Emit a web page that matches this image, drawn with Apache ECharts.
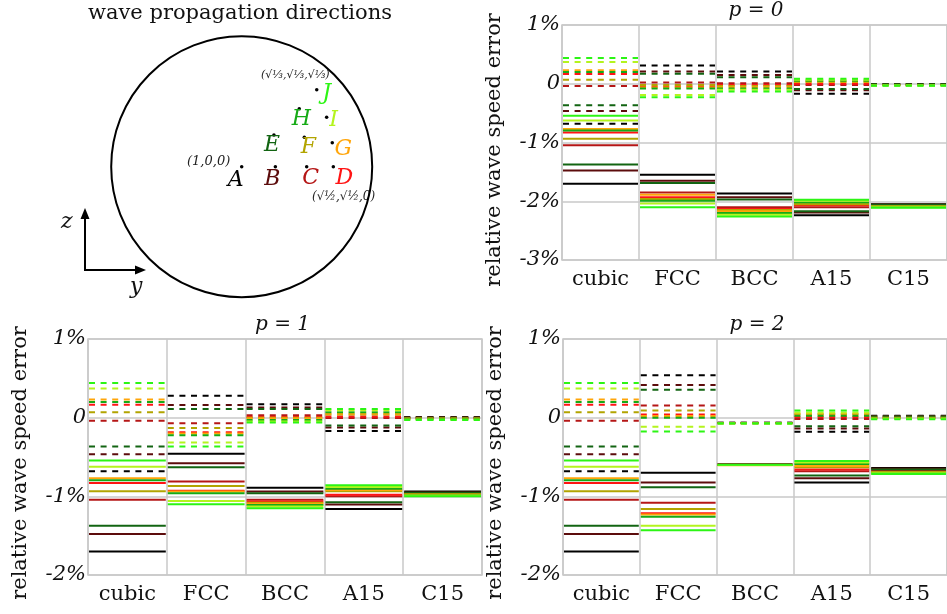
<!DOCTYPE html>
<html><head><meta charset="utf-8">
<script src="https://cdn.jsdelivr.net/npm/echarts@6/dist/echarts.min.js"></script>
<style>html,body{margin:0;padding:0;background:#fff}#c{width:947px;height:614px}</style>
</head><body><div id="c"></div><script>
// ---------- categories ----------
const structures = ['cubic', 'FCC', 'BCC', 'A15', 'C15'];
const directions = ['A', 'B', 'C', 'D', 'E', 'F', 'G', 'H', 'I', 'J'];
// projected direction positions on the unit sphere (y, z)
const dirY = [0, 0.258, 0.498, 0.702, 0.247, 0.480, 0.694, 0.441, 0.651, 0.575];
const dirZ = [0, 0, 0, 0, 0.243, 0.225, 0.184, 0.445, 0.378, 0.590];
// tick values (%)
const topTicks = [-3, -2, -1, 0, 1];
const bottomTicks = [-2, -1, 0, 1];
const panelTitles = ['p = 0', 'p = 1', 'p = 2'];
const yTitle = 'relative wave speed error';

// ---------- values: relative wave speed error (%), order A..J ----------
const cubicDashed = [-0.68, -0.465, -0.04, 0.165, -0.365, 0.068, 0.23, 0.2, 0.37, 0.44];
const cubicSolid = [-1.70, -1.478, -1.045, -0.83, -1.375, -0.935, -0.77, -0.795, -0.625, -0.545];

const p0FccDashed = [0.31, 0.21, 0.02, -0.045, 0.17, -0.02, -0.065, -0.08, -0.19, -0.23];
const p0FccSolid = [-1.55, -1.65, -1.85, -1.93, -1.69, -1.96, -1.89, -1.99, -2.04, -2.10];
const p0BccDashed = [0.21, 0.15, 0.01, -0.02, 0.11, -0.04, -0.06, -0.08, -0.10, -0.13];
const p0BccSolid = [-1.87, -1.93, -2.10, -2.13, -1.97, -2.15, -2.17, -2.20, -2.23, -2.26];
const p0A15Dashed = [-0.17, -0.11, -0.02, 0.0, -0.09, 0.03, 0.04, 0.05, 0.07, 0.085];
const p0A15Solid = [-2.24, -2.19, -2.10, -2.07, -2.17, -2.05, -2.03, -2.02, -1.99, -1.975];
const p0C15Dashed = [-0.005, -0.008, -0.018, -0.022, -0.01, -0.02, -0.025, -0.027, -0.03, -0.035];
const p0C15Solid = [-2.05, -2.055, -2.07, -2.08, -2.06, -2.08, -2.09, -2.095, -2.10, -2.11];

const p1FccDashed = [0.28, 0.16, -0.07, -0.185, 0.11, -0.13, -0.20, -0.225, -0.315, -0.365];
const p1FccSolid = [-0.46, -0.58, -0.81, -0.93, -0.63, -0.87, -0.94, -0.96, -1.06, -1.10];
const p1BccDashed = [0.17, 0.13, 0.03, 0.01, 0.11, 0.0, -0.01, -0.03, -0.05, -0.06];
const p1BccSolid = [-0.89, -0.94, -1.045, -1.065, -0.96, -1.08, -1.095, -1.11, -1.13, -1.15];
const p1A15Dashed = [-0.17, -0.125, -0.005, 0.015, -0.10, 0.04, 0.05, 0.07, 0.095, 0.11];
const p1A15Solid = [-1.16, -1.105, -1.0, -0.98, -1.075, -0.935, -0.92, -0.905, -0.88, -0.86];
const p1C15Dashed = [0.01, 0.005, -0.005, -0.01, 0.0, -0.01, -0.015, -0.02, -0.025, -0.03];
const p1C15Solid = [-0.94, -0.95, -0.965, -0.97, -0.955, -0.975, -0.98, -0.985, -0.99, -1.0];

const p2FccDashed = [0.54, 0.415, 0.155, 0.04, 0.355, 0.09, 0.02, 0.0, -0.115, -0.175];
const p2FccSolid = [-0.70, -0.825, -1.08, -1.215, -0.885, -1.16, -1.23, -1.26, -1.375, -1.43];
const p2BccDashed = [-0.065, -0.066, -0.068, -0.069, -0.067, -0.07, -0.071, -0.072, -0.073, -0.074];
const p2BccSolid = [-0.595, -0.596, -0.598, -0.6, -0.597, -0.601, -0.605, -0.602, -0.603, -0.6];
const p2A15Dashed = [-0.18, -0.137, -0.018, 0.007, -0.11, 0.045, 0.05, 0.025, 0.066, 0.09];
const p2A15Solid = [-0.825, -0.77, -0.68, -0.66, -0.735, -0.63, -0.615, -0.59, -0.57, -0.55];
const p2C15Dashed = [0.025, 0.02, 0.005, 0.0, 0.015, 0.0, -0.005, -0.01, -0.015, -0.02];
const p2C15Solid = [-0.64, -0.65, -0.675, -0.685, -0.66, -0.69, -0.695, -0.70, -0.705, -0.715];

// ---------- styles ----------
const dirColors = ['#000000', '#5c0c0c', '#b51616', '#ff1414', '#126412', '#b2a400', '#ffa50a', '#16aa16', '#b4f41e', '#2cf514'];
const labelOffsets = [[-6, 14], [-3, 13], [4, 12], [11, 12], [-2, 10], [4, 10], [11, 7], [2, 11], [7, 3], [10, 4]];
const SERIF = 'DejaVu Serif';
const GRIDC = '#c8c8c8';

const panels = [
  { grid: { left: 562, top: 25, width: 393, height: 235 }, ticks: topTicks, titleX: 495, titleY: 150,
    dashed: [cubicDashed, p0FccDashed, p0BccDashed, p0A15Dashed, p0C15Dashed],
    solid: [cubicSolid, p0FccSolid, p0BccSolid, p0A15Solid, p0C15Solid] },
  { grid: { left: 88, top: 339, width: 394, height: 236 }, ticks: bottomTicks, titleX: 21, titleY: 463,
    dashed: [cubicDashed, p1FccDashed, p1BccDashed, p1A15Dashed, p1C15Dashed],
    solid: [cubicSolid, p1FccSolid, p1BccSolid, p1A15Solid, p1C15Solid] },
  { grid: { left: 563, top: 339, width: 393, height: 236 }, ticks: bottomTicks, titleX: 496, titleY: 463,
    dashed: [cubicDashed, p2FccDashed, p2BccDashed, p2A15Dashed, p2C15Dashed],
    solid: [cubicSolid, p2FccSolid, p2BccSolid, p2A15Solid, p2C15Solid] }
];

const grids = [], xAxes = [], yAxes = [], series = [], graphics = [];

panels.forEach((p, gi) => {
  grids.push(Object.assign({ show: true, borderColor: GRIDC, borderWidth: 1.5, backgroundColor: '#fff' }, p.grid));
  xAxes.push({
    type: 'category', gridIndex: gi, data: structures, boundaryGap: true,
    axisTick: { show: false }, axisLine: { show: false },
    splitLine: { show: true, lineStyle: { color: GRIDC, width: 1.5 } },
    axisLabel: { fontFamily: SERIF, fontSize: 21, color: '#111', margin: 9, interval: 0 }
  });
  yAxes.push({
    type: 'value', gridIndex: gi, min: p.ticks[0], max: p.ticks[p.ticks.length - 1], interval: 1,
    axisLine: { show: false }, axisTick: { show: false },
    splitLine: { show: true, lineStyle: { color: GRIDC, width: 1.5 } },
    axisLabel: { fontFamily: SERIF, fontStyle: 'italic', fontSize: 21, color: '#111', margin: 2,
      formatter: v => (v === 0 ? '0' : (v + '%')) }
  });
  const data = [];
  directions.forEach((d, di) => {
    structures.forEach((s, si) => {
      data.push([si, p.dashed[si][di], di, 1]);
    });
  });
  directions.forEach((d, di) => {
    structures.forEach((s, si) => {
      data.push([si, p.solid[si][di], di, 0]);
    });
  });
  series.push({
    type: 'custom', xAxisIndex: gi, yAxisIndex: gi, coordinateSystem: 'cartesian2d',
    data: data, silent: true, animation: false,
    renderItem: function (params, api) {
      const c = api.coord([api.value(0), api.value(1)]);
      const w = api.size([1, 0])[0];
      const di = api.value(2);
      const dashed = api.value(3) === 1;
      return {
        type: 'line',
        shape: { x1: c[0] - w / 2 + 1, y1: c[1], x2: c[0] + w / 2 - 1, y2: c[1] },
        style: { stroke: dirColors[di], lineWidth: 2, lineDash: dashed ? [6, 5.6] : null }
      };
    }
  });
  graphics.push({
    type: 'text', left: p.grid.left + p.grid.width / 2 - 30, top: p.grid.top - 24,
    style: { text: panelTitles[gi], font: 'italic 20px "DejaVu Serif"', fill: '#111' }
  });
  graphics.push({
    type: 'text', x: p.titleX, y: p.titleY, rotation: Math.PI / 2,
    style: { text: yTitle, font: '21px "DejaVu Serif"', fill: '#111', align: 'center', verticalAlign: 'middle' }
  });
});

// ---------- diagram of wave propagation directions ----------
const dg = grids.length;
grids.push({ left: 111.2, top: 36.2, width: 261, height: 261, show: false });
xAxes.push({ type: 'value', gridIndex: dg, min: -1, max: 1, show: false });
yAxes.push({ type: 'value', gridIndex: dg, min: -1, max: 1, show: false });
series.push({
  type: 'custom', xAxisIndex: dg, yAxisIndex: dg, coordinateSystem: 'cartesian2d',
  data: [[0, 0, 1]], silent: true, animation: false,
  renderItem: function (params, api) {
    const c = api.coord([api.value(0), api.value(1)]);
    const r = api.size([api.value(2), 0])[0];
    return { type: 'circle', shape: { cx: c[0], cy: c[1], r: r },
      style: { fill: 'none', stroke: '#000', lineWidth: 2 } };
  }
});
series.push({
  type: 'scatter', xAxisIndex: dg, yAxisIndex: dg, symbolSize: 3.5, silent: true, animation: false,
  itemStyle: { color: '#000', opacity: 1 },
  data: directions.map((d, i) => ({
    name: d, value: [dirY[i], dirZ[i]],
    label: { show: true, position: 'inside', offset: labelOffsets[i], formatter: '{b}',
      color: dirColors[i], fontFamily: SERIF, fontStyle: 'italic', fontSize: 22,
      align: 'center', verticalAlign: 'middle', opacity: 1 }
  }))
});

graphics.push(
  { type: 'text', left: 88, top: 3, style: { text: 'wave propagation directions', font: '21px "DejaVu Serif"', fill: '#111' } },
  { type: 'text', left: 187, top: 155, style: { text: '(1,0,0)', font: 'italic 13px "DejaVu Serif"', fill: '#222' } },
  { type: 'text', left: 312, top: 191, style: { text: '(√½,√½,0)', font: 'italic 12px "DejaVu Serif"', fill: '#222' } },
  { type: 'text', left: 261, top: 70, style: { text: '(√⅓,√⅓,√⅓)', font: 'italic 11px "DejaVu Serif"', fill: '#222' } },
  { type: 'polyline', shape: { points: [[85, 212], [85, 270], [141, 270]] }, style: { stroke: '#000', lineWidth: 2, fill: null } },
  { type: 'polygon', shape: { points: [[85, 208], [80.5, 219], [89.5, 219]] }, style: { fill: '#000' } },
  { type: 'polygon', shape: { points: [[146, 270], [135, 265.5], [135, 274.5]] }, style: { fill: '#000' } },
  { type: 'text', left: 61, top: 211, style: { text: 'z', font: 'italic 22px "DejaVu Serif"', fill: '#111' } },
  { type: 'text', left: 130, top: 276, style: { text: 'y', font: 'italic 22px "DejaVu Serif"', fill: '#111' } }
);

const chart = echarts.init(document.getElementById('c'), null, { renderer: 'canvas' });
chart.setOption({
  animation: false,
  backgroundColor: '#fff',
  grid: grids, xAxis: xAxes, yAxis: yAxes, series: series, graphic: graphics
});
</script></body></html>
